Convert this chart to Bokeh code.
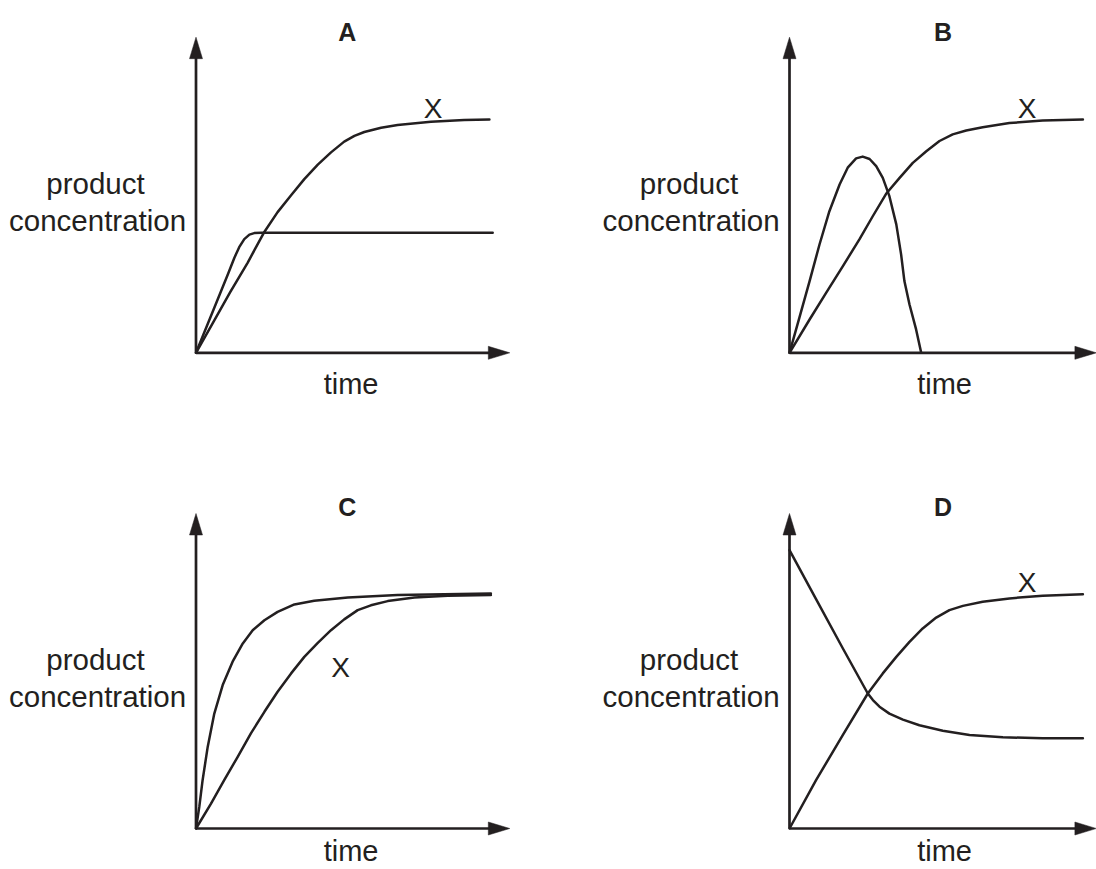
from bokeh.plotting import figure
from bokeh.layouts import column, row
from bokeh.models import Range1d
from bokeh.embed import file_html
from bokeh.resources import INLINE
from bokeh.core.properties import value

# ---------------- data (time, product concentration) ----------------
panel_letters = ["A", "B", "C", "D"]
x_axis_text = "time"
y_axis_text = ["product", "concentration"]
curve_tag = "X"

# Panel A
a_x_time = [0, 0.61, 1.14, 1.72, 2.26, 2.72, 3.17, 3.61, 4.06, 4.50, 4.94, 5.28, 5.61, 6.17, 6.72, 7.83, 8.94, 9.78]
a_x_conc = [0, 1.08, 2.02, 3.00, 4.00, 4.69, 5.25, 5.79, 6.27, 6.68, 7.04, 7.23, 7.36, 7.50, 7.59, 7.70, 7.76, 7.78]
a_other_time = [0, 0.61, 1.06, 1.28, 1.44, 1.61, 1.78, 1.94, 2.17, 9.89]
a_other_conc = [0, 1.50, 2.61, 3.17, 3.52, 3.79, 3.94, 3.99, 4.00, 4.00]

# Panel B
b_x_time = [0, 0.67, 1.22, 1.78, 2.33, 2.78, 3.22, 3.67, 4.11, 4.56, 5.00, 5.44, 5.89, 6.44, 7.33, 8.44, 9.78]
b_x_conc = [0, 1.11, 2.00, 2.89, 3.78, 4.56, 5.30, 5.83, 6.33, 6.72, 7.06, 7.28, 7.41, 7.52, 7.66, 7.74, 7.78]
b_other_time = [0, 0.33, 0.67, 1.00, 1.33, 1.67, 1.94, 2.22, 2.44, 2.67, 2.89, 3.11, 3.33, 3.56, 3.72, 3.83, 4.00, 4.22, 4.39]
b_other_conc = [0, 1.17, 2.39, 3.61, 4.72, 5.61, 6.17, 6.48, 6.54, 6.46, 6.22, 5.83, 5.22, 4.28, 3.28, 2.39, 1.61, 0.78, 0]

# Panel C
c_x_time = [0, 0.50, 0.94, 1.39, 1.83, 2.28, 2.72, 3.17, 3.61, 4.06, 4.50, 4.94, 5.39, 5.83, 6.39, 7.28, 8.39, 9.83]
c_x_conc = [0, 0.83, 1.61, 2.39, 3.17, 3.89, 4.56, 5.17, 5.72, 6.19, 6.61, 6.97, 7.28, 7.44, 7.58, 7.70, 7.76, 7.78]
c_other_time = [0, 0.11, 0.22, 0.39, 0.61, 0.89, 1.22, 1.56, 1.89, 2.28, 2.72, 3.28, 3.94, 5.06, 6.72, 9.83]
c_other_conc = [0, 0.72, 1.61, 2.72, 3.83, 4.78, 5.56, 6.17, 6.61, 6.94, 7.22, 7.47, 7.59, 7.70, 7.78, 7.83]

# Panel D
d_x_time = [0, 0.89, 1.78, 2.61, 3.11, 3.56, 4.00, 4.44, 4.89, 5.33, 5.78, 6.44, 7.33, 8.44, 9.78]
d_x_conc = [0, 1.62, 3.12, 4.50, 5.17, 5.72, 6.22, 6.67, 7.03, 7.28, 7.42, 7.56, 7.67, 7.76, 7.81]
d_other_time = [0, 0.89, 1.78, 2.61, 2.78, 3.00, 3.33, 3.78, 4.33, 5.11, 6.00, 7.11, 8.44, 9.78]
d_other_conc = [9.28, 7.64, 6.00, 4.50, 4.28, 4.06, 3.83, 3.63, 3.44, 3.26, 3.12, 3.04, 3.01, 3.01]

# ---------------- layout / style (not data) ----------------
INK = "#231f20"
FONT = "Liberation Sans"
PX = 30.0            # screen pixels per data unit, both axes
W, H = 548, 434      # each panel figure
HEAD_LEN = 21.5 / PX
HEAD_HALF = 6.5 / PX

panels = [
    dict(letter=panel_letters[0], xs=(a_x_time, a_x_conc), os=(a_other_time, a_other_conc),
         ox=195.5, oy=352.3, xtip=10.46, ytip=10.52, title=(5.04, 10.69), tag=(7.90, 8.13), time_y=-1.03),
    dict(letter=panel_letters[1], xs=(b_x_time, b_x_conc), os=(b_other_time, b_other_conc),
         ox=241.0, oy=352.3, xtip=10.23, ytip=10.52, title=(5.12, 10.69), tag=(7.92, 8.13), time_y=-1.03),
    dict(letter=panel_letters[2], xs=(c_x_time, c_x_conc), os=(c_other_time, c_other_conc),
         ox=195.5, oy=394.0, xtip=10.46, ytip=10.50, title=(5.04, 10.72), tag=(4.82, 5.38), time_y=-0.76),
    dict(letter=panel_letters[3], xs=(d_x_time, d_x_conc), os=(d_other_time, d_other_conc),
         ox=241.0, oy=394.0, xtip=10.23, ytip=10.50, title=(5.12, 10.72), tag=(7.92, 8.19), time_y=-0.76),
]


def make_panel(cfg):
    ox, oy = cfg["ox"], cfg["oy"]
    p = figure(width=W, height=H, output_backend="svg", toolbar_location=None,
               x_range=Range1d(-ox / PX, (W - ox) / PX),
               y_range=Range1d(-(H - oy) / PX, oy / PX),
               x_axis_location=None, y_axis_location=None,
               min_border=0, tools="")
    p.outline_line_color = None
    p.grid.visible = False
    p.background_fill_color = "white"
    p.border_fill_color = "white"

    xt, yt = cfg["xtip"], cfg["ytip"]
    # axes drawn as arrows
    p.segment(x0=[0, 0], y0=[0, 0], x1=[xt - HEAD_LEN * 0.5, 0], y1=[0, yt - HEAD_LEN * 0.5],
              line_color=INK, line_width=2.7)
    p.patches(xs=[[xt - HEAD_LEN, xt, xt - HEAD_LEN], [-HEAD_HALF, 0, HEAD_HALF]],
              ys=[[HEAD_HALF, 0, -HEAD_HALF], [yt - HEAD_LEN, yt, yt - HEAD_LEN]],
              fill_color=INK, line_color=INK, line_width=0.5)

    # curves
    for t, c in (cfg["xs"], cfg["os"]):
        p.line(t, c, line_color=INK, line_width=2.5, line_join="round", line_cap="round")

    # texts
    p.text(x=[cfg["title"][0]], y=[cfg["title"][1]], text=[cfg["letter"]],
           text_font=value(FONT), text_font_size="25px", text_font_style="bold",
           text_align="center", text_baseline="alphabetic", text_color=INK)
    p.text(x=[cfg["tag"][0]], y=[cfg["tag"][1]], text=[curve_tag],
           text_font=value(FONT), text_font_size="28px",
           text_align="center", text_baseline="alphabetic", text_color=INK)
    p.text(x=[5.17], y=[cfg["time_y"]], text=[x_axis_text],
           text_font=value(FONT), text_font_size="29px",
           text_align="center", text_baseline="alphabetic", text_color=INK)
    p.text(x=[-3.35, -3.28], y=[5.63, 4.41], text=y_axis_text,
           text_font=value(FONT), text_font_size="29.5px",
           text_align="center", text_baseline="alphabetic", text_color=INK)
    return p


figs = [make_panel(c) for c in panels]
layout = column(row(figs[0], figs[1]), row(figs[2], figs[3]))

open("out.html", "w").write(file_html(layout, INLINE))
